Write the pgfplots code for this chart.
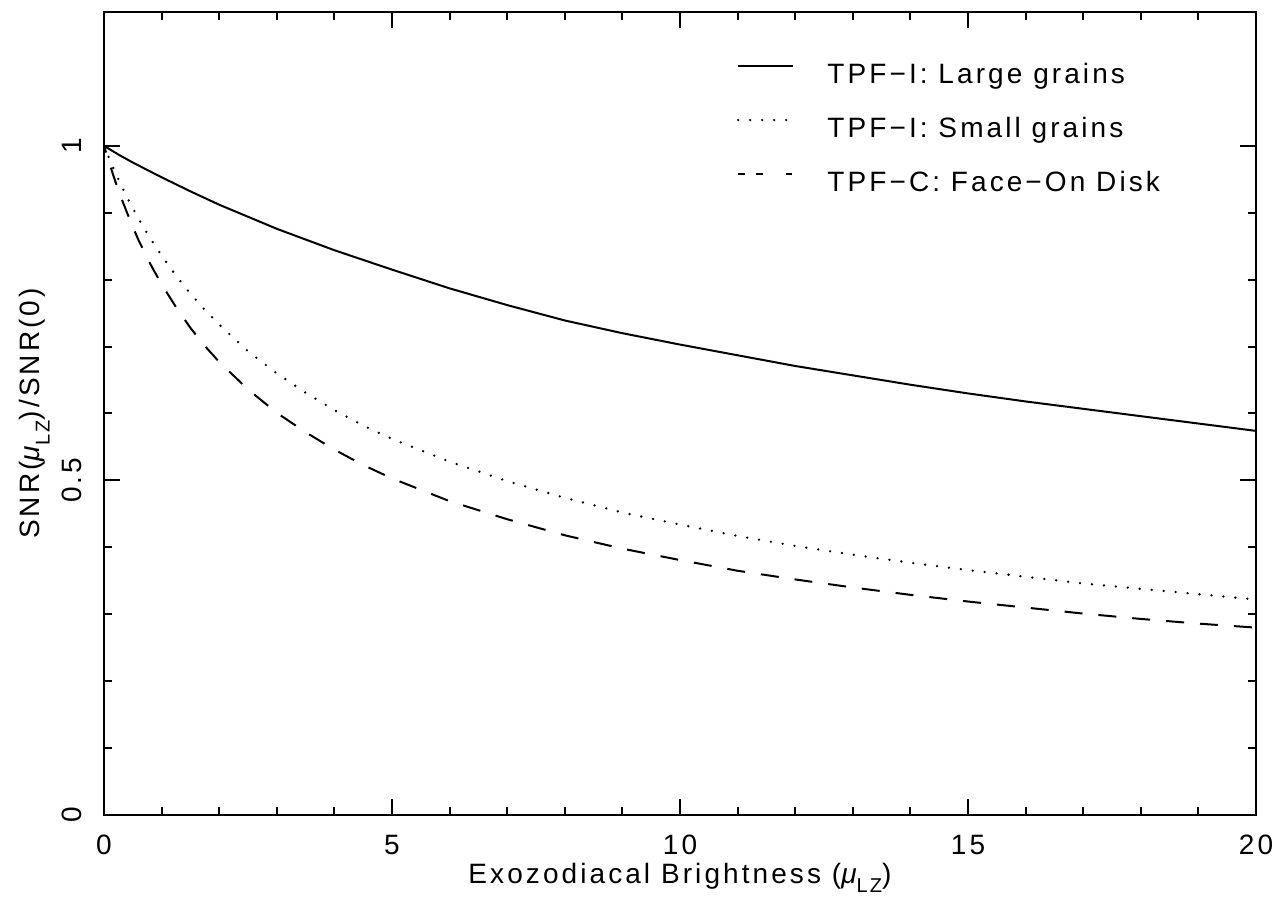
\documentclass[border=0pt]{standalone}
\usepackage{fontspec}
\setmainfont{Liberation Sans}[LetterSpace=11]
\usepackage{pgfplots}
\pgfplotsset{compat=1.18}
\newcommand{\sub}[1]{\raisebox{-0.35em}{\fontsize{10bp}{10bp}\selectfont #1}}
\newcommand{\chartfont}{\fontsize{14bp}{16bp}\selectfont}

\begin{document}
\begin{tikzpicture}
\begin{axis}[
  scale only axis, width=576bp, height=401.5bp,
  xmin=0, xmax=20, ymin=0, ymax=1.2,
  axis line style={line width=1.1bp},
  every tick/.style={line width=1bp, black},
  tick align=inside, tick pos=both,
  xticklabel pos=lower, yticklabel pos=left,
  xtick={0,5,10,15,20}, ytick={0,0.5,1},
  minor x tick num=4, minor y tick num=4,
  major tick length=8bp, minor tick length=4bp,
  /pgf/number format/assume math mode=true,
  tick label style={font=\chartfont},
  xticklabel style={anchor=north, inner sep=0pt},
  xticklabel shift=10bp,
  yticklabel style={rotate=90, anchor=south, inner sep=0pt},
  yticklabel shift=11bp,
  label style={font=\chartfont},
  xlabel={Exozodiacal Brightness ({\itshape μ}\sub{LZ})},
  ylabel={SNR({\itshape μ}\sub{LZ})/SNR(0)},
  xlabel style={at={(axis description cs:0.5,-0.0847)}, anchor=base, inner sep=0pt},
  ylabel style={at={(axis description cs:-0.0556,0.5)}, anchor=base, inner sep=0pt},
  legend style={at={(axis description cs:0.549,0.9375)}, anchor=north west,
    draw=none, fill=none, inner sep=0pt, row sep=13.5bp, column sep=16.5bp,
    font=\chartfont, nodes={inner sep=0pt, text height=10.5bp, text depth=3bp}},
  legend cell align=left,
  legend image code/.code={\draw[#1] (0bp,5bp) -- (27.5bp,5bp);},
]
\addplot[black, line width=1bp] coordinates {
(0,1.000) (0.25,0.987) (0.5,0.975) (0.75,0.964) (1,0.953) (1.5,0.932) (2,0.912)
(2.5,0.894) (3,0.876) (3.5,0.860) (4,0.844)
(5,0.815) (6,0.787) (7,0.762) (8,0.739) (9,0.720) (10,0.703) (11,0.687)
(12,0.671) (13,0.657) (14,0.643) (15,0.630) (16,0.618) (17,0.607) (18,0.596)
(19,0.585) (20,0.574)};
\addlegendentry{TPF−I: Large grains}
\addplot[black, line width=1.3bp, line cap=round, dash pattern=on 0bp off 6bp] coordinates {
(0,1.000) (0.1,0.979) (0.2,0.959) (0.3,0.941) (0.4,0.923) (0.5,0.907) (0.6,0.891)
(0.8,0.862) (1,0.836) (1.25,0.806) (1.5,0.779) (1.75,0.755)
(2,0.733) (2.5,0.693) (3,0.660) (3.5,0.631) (4,0.605) (4.5,0.582) (5,0.562)
(6,0.528) (7,0.499) (8,0.474) (9,0.452) (10,0.434) (11,0.417) (12,0.402)
(13,0.389) (14,0.377) (15,0.366) (16,0.356) (17,0.346) (18,0.338) (19,0.330)
(20,0.322)};
\addlegendentry{TPF−I: Small grains}
\addplot[black, line width=1bp, dash pattern=on 9bp off 8bp, dash phase=5.5bp,
  legend image code/.code={\draw[black, line width=1bp] (0bp,5bp) -- (3.5bp,5bp) (9bp,5bp) -- (17.5bp,5bp) (24bp,5bp) -- (27bp,5bp);}] coordinates {
(0,1.000) (0.1,0.972) (0.2,0.946) (0.3,0.922) (0.4,0.900) (0.5,0.879) (0.6,0.859)
(0.8,0.824) (1,0.793) (1.25,0.759) (1.5,0.728) (1.75,0.701)
(2,0.677) (2.5,0.636) (3,0.601) (3.5,0.572) (4,0.546) (4.5,0.523) (5,0.503)
(6,0.469) (7,0.442) (8,0.418) (9,0.398) (10,0.381) (11,0.365) (12,0.352)
(13,0.340) (14,0.329) (15,0.319) (16,0.310) (17,0.301) (18,0.293) (19,0.286)
(20,0.280)};
\addlegendentry{TPF−C: Face−On Disk}
\end{axis}
\pgfresetboundingbox
\path ([xshift=-52bp,yshift=-47bp]current axis.south west) rectangle ([xshift=12bp,yshift=6bp]current axis.north east);
\end{tikzpicture}
\end{document}
